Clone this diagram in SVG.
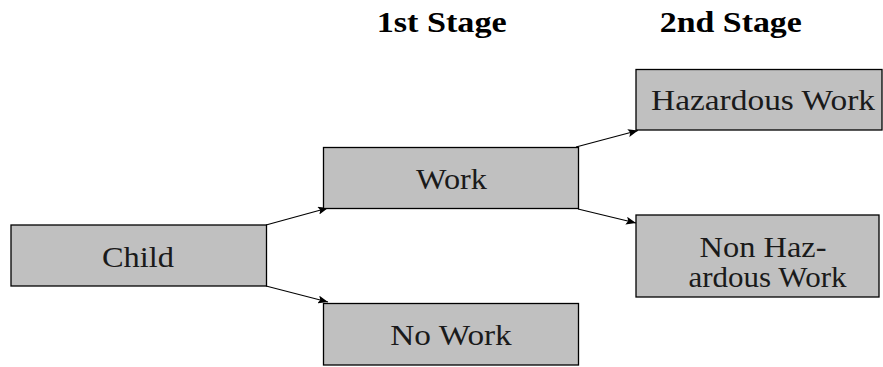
<svg xmlns="http://www.w3.org/2000/svg" width="883" height="367" viewBox="0 0 883 367">
<defs>
<marker id="ah" viewBox="0 0 10 8" refX="10" refY="4" markerWidth="10" markerHeight="8" markerUnits="userSpaceOnUse" orient="auto">
<path d="M0,0 L10,4 L0,8 L2,4 Z" fill="#000"/>
</marker>
</defs>
<style>
.box{fill:#c0c0c0;stroke:#000;stroke-width:1.3}
text{font-family:"Liberation Serif", serif}
.t{font-size:30px;fill:#1a1a1a;text-anchor:middle}
.h{font-size:29px;font-weight:bold;fill:#000;text-anchor:middle}
.c{stroke:#000;stroke-width:1.2;fill:none;marker-end:url(#ah)}
</style>
<rect width="883" height="367" fill="#fff"/>
<g id="headers">
<text class="h" x="441.7" y="31.7" textLength="130" lengthAdjust="spacingAndGlyphs">1st Stage</text>
<text class="h" x="730.8" y="31.7" textLength="142" lengthAdjust="spacingAndGlyphs">2nd Stage</text>
</g>
<g id="connectors">
<line class="c" x1="266" y1="225" x2="328" y2="208"/>
<line class="c" x1="266" y1="286" x2="328" y2="302"/>
<line class="c" x1="576" y1="147" x2="638" y2="130.5"/>
<line class="c" x1="578" y1="209" x2="636" y2="223"/>
</g>
<g id="child">
<rect class="box" x="11" y="225" width="255.5" height="61"/>
<text class="t" x="138" y="266.5" textLength="72" lengthAdjust="spacingAndGlyphs">Child</text>
</g>
<g id="work">
<rect class="box" x="323.5" y="147.5" width="255" height="61"/>
<text class="t" x="451.5" y="189.3" textLength="71" lengthAdjust="spacingAndGlyphs">Work</text>
</g>
<g id="nowork">
<rect class="box" x="323.5" y="303.5" width="255" height="61.5"/>
<text class="t" x="451" y="345" textLength="121.5" lengthAdjust="spacingAndGlyphs">No Work</text>
</g>
<g id="hazardous">
<rect class="box" x="636" y="69.5" width="246" height="60.5"/>
<text class="t" x="763" y="110" textLength="224" lengthAdjust="spacingAndGlyphs">Hazardous Work</text>
</g>
<g id="nonhazardous">
<rect class="box" x="636" y="215" width="243" height="82"/>
<text class="t" x="763" y="256.7" textLength="127" lengthAdjust="spacingAndGlyphs">Non Haz-</text>
<text class="t" x="767.5" y="286.5" textLength="158" lengthAdjust="spacingAndGlyphs">ardous Work</text>
</g>
</svg>
